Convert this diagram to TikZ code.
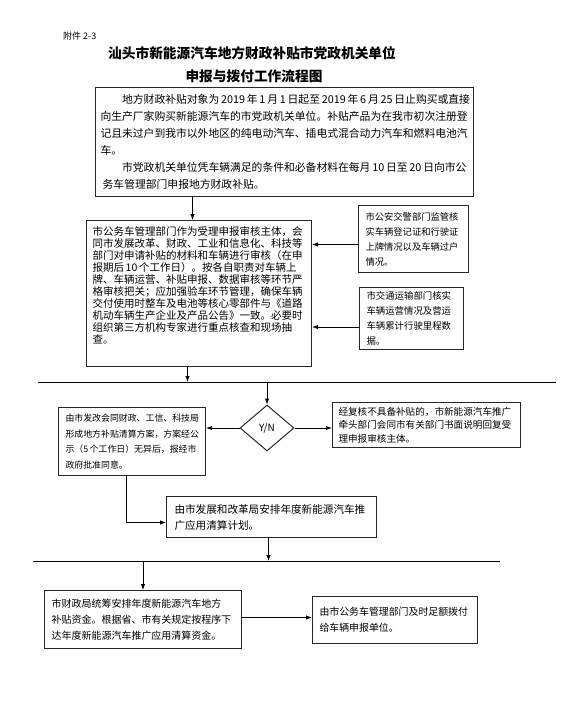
\documentclass[tikz,border=0pt]{standalone}
\usepackage{fontspec}
\setmainfont{Noto Sans CJK SC}
\usetikzlibrary{positioning,arrows.meta,shapes.geometric}

\begin{document}
\begin{tikzpicture}[x=1pt, y=-1pt,
  box/.style={draw=black!85, line width=1pt, fill=white, align=left, anchor=north west, inner ysep=0pt},
  choice/.style={draw=black!85, line width=1pt, diamond, minimum width=54pt, minimum height=46pt, inner sep=0pt, font=\fontsize{10}{12}\selectfont},
  sep/.style={line width=1pt},
  arr/.style={-{Latex[length=6pt,width=4.5pt]}, line width=0.9pt}]
\useasboundingbox (0,0) rectangle (578,704);
\node[anchor=west, inner sep=0pt, font=\fontsize{9}{11}\selectfont] (annex) at (63,36) {附件 2-3};
\node[font=\fontsize{13.7}{16}\selectfont\bfseries] (title) at (252,53) {汕头市新能源汽车地方财政补贴市党政机关单位};
\node[font=\fontsize{13.7}{16}\selectfont\bfseries] (title2) at (254,76) {申报与拨付工作流程图};
\node[box, text width=368pt, inner xsep=5pt, minimum height=109pt, font=\fontsize{10.8}{17}\selectfont] (rule) at (95,87)
  {\hspace*{2em}地方财政补贴对象为\,2019\,年\,1\,月\,1\,日起至\,2019\,年\,6\,月\,25\,日止购买或直接\\向生产厂家购买新能源汽车的市党政机关单位。补贴产品为在我市初次注册登\\记且未过户到我市以外地区的纯电动汽车、插电式混合动力汽车和燃料电池汽\\车。\\\hspace*{2em}市党政机关单位凭车辆满足的条件和必备材料在每月\,10\,日至\,20\,日向市公\\\hspace*{0.2em}务车管理部门申报地方财政补贴。};
\node[box, text width=213pt, inner xsep=6pt, inner ysep=6pt, text height=9pt, text depth=125pt, font=\fontsize{10.5}{12}\selectfont] (check) at (86,220)
  {市公务车管理部门作为受理申报审核主体，会\\同市发展改革、财政、工业和信息化、科技等\\部门对申请补贴的材料和车辆进行审核（在申\\报期后\,10\,个工作日）。按各自职责对车辆上\\牌、车辆运营、补贴申报、数据审核等环节严\\格审核把关；应加强验车环节管理，确保车辆\\交付使用时整车及电池等核心零部件与《道路\\机动车辆生产企业及产品公告》一致。必要时\\组织第三方机构专家进行重点核查和现场抽\\查。};
\node[box, text width=96pt, inner xsep=7pt, minimum height=67pt, font=\fontsize{9.3}{15}\selectfont] (police) at (358,205)
  {市公安交警部门监管核\\实车辆登记证和行驶证\\上牌情况以及车辆过户\\情况。};
\node[box, text width=90pt, inner xsep=7pt, minimum height=62pt, font=\fontsize{9.4}{15}\selectfont] (transport) at (359,287)
  {市交通运输部门核实\\车辆运营情况及营运\\车辆累计行驶里程数\\据。};
\coordinate (cut1w) at (38,382);
\coordinate (cut1e) at (556,382);
\node[choice] (yn) at (267,428) {Y/N};
\node[box, text width=133pt, inner xsep=7pt, minimum height=68pt, font=\fontsize{8.9}{15.5}\selectfont] (plan) at (58,407)
  {由市发改会同财政、工信、科技局\\形成地方补贴清算方案，方案经公\\示（5\,个工作日）无异后，报经市\\政府批准同意。};
\node[box, text width=176pt, inner xsep=6pt, minimum height=45pt, font=\fontsize{9.6}{13.5}\selectfont] (reply) at (332,402)
  {经复核不具备补贴的，市新能源汽车推广\\牵头部门会同市有关部门书面说明回复受\\理申报审核主体。};
\node[box, text width=194pt, inner xsep=8pt, minimum height=41pt, font=\fontsize{10.6}{16}\selectfont] (budget) at (166,496)
  {由市发展和改革局安排年度新能源汽车推\\广应用清算计划。};
\coordinate (cut2w) at (33,561);
\coordinate (cut2e) at (500,561);
\node[box, text width=183pt, inner xsep=7pt, minimum height=58pt, font=\fontsize{10}{16}\selectfont] (fund) at (44,590)
  {市财政局统筹安排年度新能源汽车地方\\补贴资金。根据省、市有关规定按程序下\\达年度新能源汽车推广应用清算资金。};
\node[box, text width=151pt, inner xsep=7pt, minimum height=47pt, font=\fontsize{9.9}{16}\selectfont] (payout) at (312,596)
  {由市公务车管理部门及时足额拨付\\给车辆申报单位。};
\draw[sep] (cut1w) -- (cut1e);
\draw[sep] (cut2w) -- (cut2e);
\draw[arr] ([xshift=-6.5pt]check.north |- rule.south) -- ([xshift=-6.5pt]check.north);
\draw[arr] ([yshift=-5.5pt]police.west) -- ([yshift=-5.5pt]police.west -| check.east);
\draw[arr] ([yshift=-8.5pt]transport.west) -- ([yshift=-8.5pt]transport.west -| check.east);
\draw[arr] ([xshift=-11.5pt]check.south) -- ([xshift=-11.5pt]check.south |- cut1w);
\draw[arr] (yn.north |- cut1w) -- (yn.north);
\draw[arr] (yn.west) -- (yn.west -| plan.east);
\draw[arr] (yn.east) -- (yn.east -| reply.west);
\draw[arr] ([xshift=-5.5pt]plan.south) |- ([yshift=-5.5pt]budget.west);
\draw[arr] ([xshift=-3pt]budget.south) -- ([xshift=-3pt]budget.south |- cut2w);
\draw[arr] (fund.north |- cut2w) -- (fund.north);
\draw[arr] ([yshift=2pt]fund.east) -- ([yshift=2pt]fund.east -| payout.west);
\end{tikzpicture}
\end{document}
